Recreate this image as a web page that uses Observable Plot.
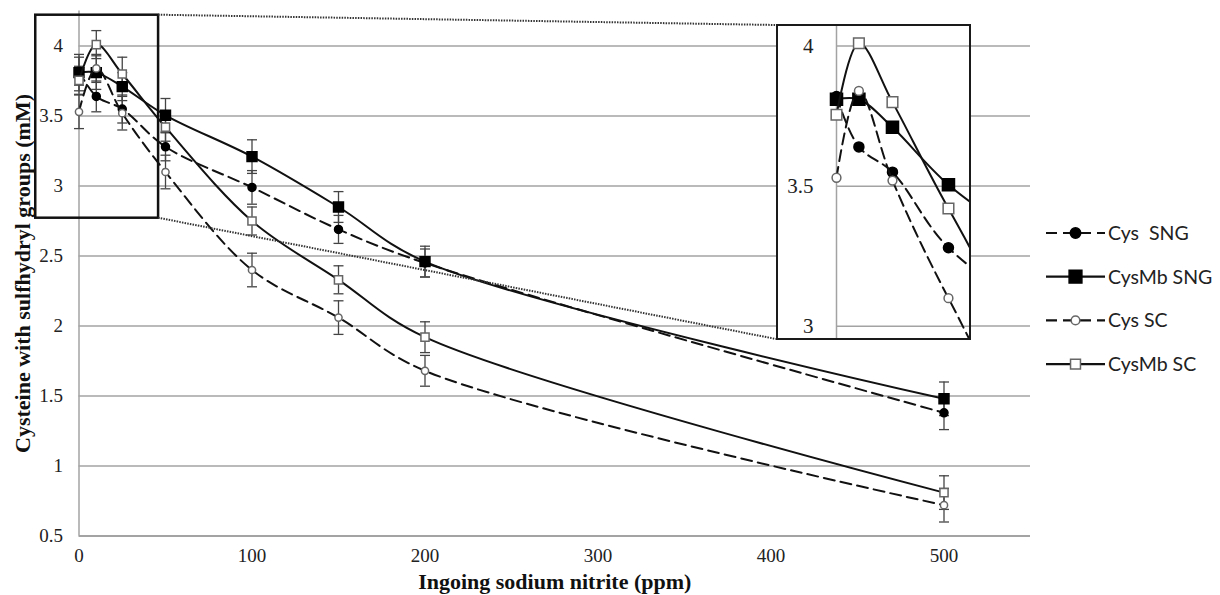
<!DOCTYPE html>
<html><head><meta charset="utf-8">
<script src="https://cdn.jsdelivr.net/npm/d3@7"></script>
<script src="https://cdn.jsdelivr.net/npm/@observablehq/plot@0.6"></script>
<style>
body{margin:0;background:#fff;}
#wrap{position:relative;width:1220px;height:595px;overflow:hidden;background:#fff;}
#main{position:absolute;left:0;top:0;}
#overlay{position:absolute;left:0;top:0;}
#inset{position:absolute;left:776px;top:24px;width:195px;height:316px;box-sizing:border-box;border:2px solid #1a1a1a;background:#fff;overflow:hidden;}
#legend{position:absolute;left:0;top:0;}
#main g[aria-label="x-axis label"] text, #main g[aria-label="y-axis label"] text{font-weight:bold;font-size:22px;fill:#111;}
</style></head>
<body><div id="wrap"><div id="main"></div><svg id="overlay" width="1220" height="595"></svg><div id="inset"></div><svg id="legend" width="1220" height="595"></svg></div>
<script>
// ---------- data ----------
const doses = [0, 10, 25, 50, 100, 150, 200, 500];
const seriesNames = ["Cys  SNG", "CysMb SNG", "Cys SC", "CysMb SC"];
const cysSNG   = [3.82, 3.64, 3.55, 3.28, 2.99, 2.69, 2.45, 1.38];
const cysMbSNG = [3.81, 3.81, 3.71, 3.505, 3.21, 2.85, 2.46, 1.48];
const cysSC    = [3.53, 3.84, 3.52, 3.10, 2.40, 2.06, 1.68, 0.72];
const cysMbSC  = [3.755, 4.01, 3.80, 3.42, 2.75, 2.33, 1.92, 0.81];
const cysSNG_sd   = [0.10, 0.11, 0.10, 0.10, 0.12, 0.10, 0.10, 0.12];
const cysMbSNG_sd = [0.13, 0.12, 0.10, 0.12, 0.12, 0.11, 0.11, 0.12];
const cysSC_sd    = [0.12, 0.10, 0.12, 0.12, 0.12, 0.12, 0.11, 0.12];
const cysMbSC_sd  = [0.10, 0.10, 0.12, 0.10, 0.10, 0.10, 0.11, 0.12];
const xTicks = [0, 100, 200, 300, 400, 500];
const yTicks = [0.5, 1, 1.5, 2, 2.5, 3, 3.5, 4];
const insetTicks = [3, 3.5, 4];
const zoomX = [-25, 46];
const zoomY = [2.77, 4.22];

// ---------- styles per series ----------
const styles = [
  {dash: "11,6", symbol: "circle", fill: "#000", stroke: "#000", r: 4, ri: 5, rl: 5.2},
  {dash: null, symbol: "square", fill: "#000", stroke: "#000", r: 5.6, ri: 6.8, rl: 7.2},
  {dash: "11,6", symbol: "circle", fill: "#fff", stroke: "#666", r: 3.6, ri: 4.4, rl: 4.3},
  {dash: null, symbol: "square", fill: "#fff", stroke: "#666", r: 4.6, ri: 6, rl: 5.6}
];
const values = [cysSNG, cysMbSNG, cysSC, cysMbSC];
const sds = [cysSNG_sd, cysMbSNG_sd, cysSC_sd, cysMbSC_sd];
const series = seriesNames.map((name, k) => ({
  name, style: styles[k],
  rows: doses.map((x, i) => ({series: name, x, y: values[k][i], sd: sds[k][i]}))
}));
const allRows = series.flatMap(s => s.rows);
const cap = {draw(ctx) { ctx.moveTo(-5, 0); ctx.lineTo(5, 0); }};

function seriesMarks(s, inset) {
  const st = s.style;
  return [
    Plot.line(s.rows, {x: "x", y: "y", curve: "catmull-rom", stroke: "#111", strokeWidth: 2,
      strokeDasharray: st.dash}),
    Plot.dot(s.rows, {x: "x", y: "y", symbol: st.symbol, r: inset ? st.ri : st.r, fill: st.fill,
      stroke: st.stroke, strokeWidth: 1.5})
  ];
}

// ---------- main chart ----------
const main = Plot.plot({
  width: 1220, height: 595,
  marginLeft: 78.5, marginRight: 190, marginTop: 10.5, marginBottom: 59.5,
  x: {domain: [0, 550]},
  y: {domain: [0.5, 4.25]},
  style: {fontFamily: "'Liberation Serif', 'DejaVu Serif', serif", fontSize: "19px", color: "#222", background: "transparent"},
  marks: [
    Plot.gridY(yTicks.filter(t => t > 0.5), {stroke: "#a3a3a3", strokeOpacity: 1, strokeWidth: 1.5}),
    Plot.ruleY([0.5], {stroke: "#a3a3a3", strokeWidth: 2}),
    Plot.ruleX([0], {stroke: "#a3a3a3", strokeWidth: 1.5}),
    Plot.axisX(xTicks, {tickSize: 0, tickPadding: 12, fontSize: 19, label: "Ingoing sodium nitrite (ppm)",
      labelAnchor: "center", labelOffset: 53, labelArrow: "none"}),
    Plot.axisY(yTicks, {tickSize: 0, tickPadding: 16, fontSize: 19, tickFormat: d => String(d),
      label: "Cysteine with sulfhydryl groups (mM)", labelAnchor: "center", labelOffset: 65, labelArrow: "none"}),
    Plot.ruleX(allRows, {x: "x", y1: d => d.y - d.sd, y2: d => d.y + d.sd, stroke: "#444", strokeWidth: 1.3}),
    Plot.dot(allRows, {x: "x", y: d => d.y - d.sd, symbol: cap, stroke: "#444", strokeWidth: 1.3}),
    Plot.dot(allRows, {x: "x", y: d => d.y + d.sd, symbol: cap, stroke: "#444", strokeWidth: 1.3}),
    ...series.flatMap(s => seriesMarks(s, false))
  ]
});
document.getElementById("main").appendChild(main);

// ---------- zoom box + connectors ----------
const sx = main.scale("x"), sy = main.scale("y");
const ov = d3.select("#overlay");
const bx1 = sx.apply(zoomX[0]), bx2 = sx.apply(zoomX[1]);
const by1 = sy.apply(zoomY[1]), by2 = sy.apply(zoomY[0]);
ov.append("rect").attr("x", bx1).attr("y", by1).attr("width", bx2 - bx1).attr("height", by2 - by1)
  .attr("fill", "none").attr("stroke", "#111").attr("stroke-width", 2.5);
const insetEl = document.getElementById("inset");
const iL = insetEl.offsetLeft, iT = insetEl.offsetTop, iB = iT + insetEl.offsetHeight;
[[bx2, by1, iL, iT + 1], [bx2, by2, iL, iB - 1]].forEach(([a, b, c, d]) =>
  ov.append("line").attr("x1", a).attr("y1", b).attr("x2", c).attr("y2", d)
    .attr("stroke", "#333").attr("stroke-width", 2).attr("stroke-dasharray", "1.5,1.2"));

// ---------- inset ----------
const inset = Plot.plot({
  width: 191, height: 312,
  marginLeft: 58, marginRight: 0, marginTop: 0, marginBottom: 0,
  x: {domain: [0, 59.4], axis: null},
  y: {domain: [2.956, 4.07]},
  style: {fontFamily: "'Liberation Serif', 'DejaVu Serif', serif", fontSize: "21px", color: "#222", background: "transparent"},
  marks: [
    Plot.gridY(insetTicks, {stroke: "#a3a3a3", strokeOpacity: 1, strokeWidth: 1.5}),
    Plot.ruleX([0], {stroke: "#a3a3a3", strokeWidth: 1.5}),
    Plot.axisY(insetTicks, {tickSize: 0, tickPadding: 23, fontSize: 21, tickFormat: d => String(d), label: null}),
    ...series.flatMap(s => seriesMarks(s, true))
  ]
});
insetEl.appendChild(inset);

// ---------- legend ----------
const lg = d3.select("#legend");
const legendY0 = 233, legendStep = 43.7, lx0 = 1046, lx1 = 1105, ltx = 1108;
series.forEach((s, k) => {
  const y = legendY0 + k * legendStep, st = s.style;
  lg.append("line").attr("x1", lx0).attr("x2", lx1).attr("y1", y).attr("y2", y)
    .attr("stroke", "#111").attr("stroke-width", 2.2).attr("stroke-dasharray", st.dash);
  const sym = d3.symbol(st.symbol === "circle" ? d3.symbolCircle : d3.symbolSquare, Math.PI * st.rl * st.rl);
  lg.append("path").attr("d", sym()).attr("transform", `translate(${(lx0 + lx1) / 2},${y})`)
    .attr("fill", st.fill).attr("stroke", st.stroke).attr("stroke-width", 1.5);
  lg.append("text").attr("x", ltx).attr("y", y).attr("dy", "0.35em")
    .attr("font-family", "Lato, 'Open Sans', sans-serif").attr("font-size", 19.5).attr("fill", "#222")
    .style("white-space", "pre").text(s.name);
});
</script></body></html>
